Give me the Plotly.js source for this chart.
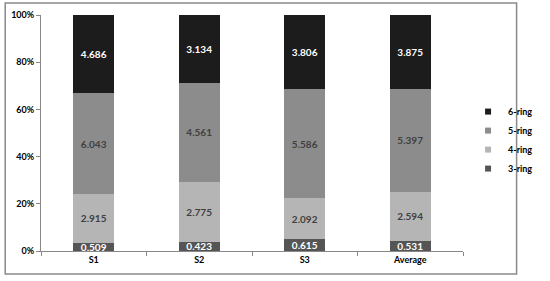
<!DOCTYPE html>
<html>
<head>
<meta charset="utf-8">
<script src="https://cdn.plot.ly/plotly-3.0.1.min.js"></script>
<style>html,body{margin:0;padding:0;background:#fff;}#chart{width:550px;height:281px;}</style>
</head>
<body>
<div id="chart"></div>
<script>
var categories = ["S1", "S2", "S3", "Average"];
var ring3 = [0.509, 0.423, 0.615, 0.531];
var ring4 = [2.915, 2.775, 2.092, 2.594];
var ring5 = [6.043, 4.561, 5.586, 5.397];
var ring6 = [4.686, 3.134, 3.806, 3.875];
var seriesNames = ["3-ring", "4-ring", "5-ring", "6-ring"];
var yTickVals = [0, 20, 40, 60, 80, 100];
var yTickText = ["0%", "20%", "40%", "60%", "80%", "100%"];

var fillColors = ["#555555", "#b5b5b5", "#8c8c8c", "#1c1c1c"];
var textColors = ["#ffffff", "#404040", "#404040", "#ffffff"];
var FONT = "Lato, 'Liberation Sans', sans-serif";
var series = [ring3, ring4, ring5, ring6];

var data = series.map(function (vals, i) {
  return {
    type: "bar",
    name: seriesNames[i],
    x: categories,
    y: vals,
    text: vals.map(function (v) { return v.toFixed(3); }),
    textposition: "inside",
    insidetextanchor: "middle",
    constraintext: "none",
    textangle: 0,
    textfont: {family: FONT, size: 10, color: textColors[i], weight: "bold"},
    marker: {color: fillColors[i], line: {width: 0}},
    hoverinfo: "none",
    showlegend: false
  };
});
// legend-only entries with small square symbols
seriesNames.forEach(function (nm, i) {
  data.push({
    type: "scatter", mode: "markers", name: nm,
    x: [categories[0]], y: [null],
    marker: {symbol: "square", size: 6, color: fillColors[i]},
    hoverinfo: "none", showlegend: true
  });
});

var layout = {
  width: 550, height: 281,
  margin: {l: 41, r: 61, t: 15, b: 30, pad: 0},
  paper_bgcolor: "#ffffff",
  plot_bgcolor: "#ffffff",
  barmode: "stack",
  barnorm: "percent",
  bargap: 0.607,
  showlegend: true,
  legend: {
    x: 1.012, xanchor: "left", y: 0.47, yanchor: "middle",
    traceorder: "reversed",
    font: {family: FONT, size: 9, color: "#000", weight: "bold"},
    itemwidth: 30, tracegroupgap: 0,
    bgcolor: "rgba(0,0,0,0)"
  },
  xaxis: {
    type: "category",
    showline: true, linecolor: "#888888", linewidth: 1,
    ticks: "outside", tickson: "boundaries", ticklen: 4, tickcolor: "#888888",
    tickfont: {family: FONT, size: 9, color: "#000", weight: "bold"},
    showgrid: false, zeroline: false, fixedrange: true
  },
  yaxis: {
    range: [0, 100],
    tickvals: yTickVals, ticktext: yTickText,
    showline: true, linecolor: "#888888", linewidth: 1,
    ticks: "outside", ticklen: 4, tickcolor: "#888888",
    tickfont: {family: FONT, size: 9, color: "#000", weight: "bold"},
    showgrid: false, zeroline: false, fixedrange: true
  },
  shapes: [{
    type: "rect", xref: "paper", yref: "paper",
    x0: -0.0848, x1: 1.127, y0: -0.0975, y1: 1.0508,
    line: {color: "#8a8a8a", width: 1.5}, fillcolor: "rgba(0,0,0,0)", layer: "below"
  }]
};

Plotly.newPlot("chart", data, layout, {displayModeBar: false, staticPlot: true});
</script>
</body>
</html>
